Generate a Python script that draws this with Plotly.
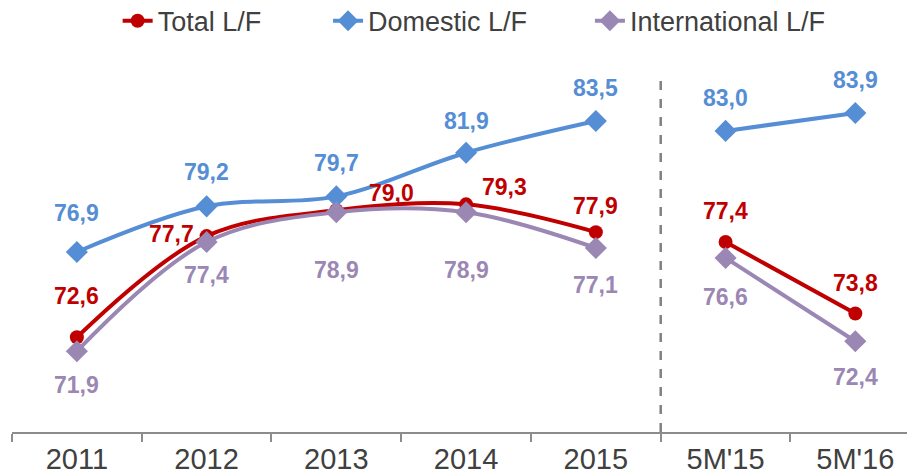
import plotly.graph_objects as go

categories = ["2011", "2012", "2013", "2014", "2015", "5M'15", "5M'16"]
total_lf = [72.6, 77.7, 79.0, 79.3, 77.9, 77.4, 73.8]
domestic_lf = [76.9, 79.2, 79.7, 81.9, 83.5, 83.0, 83.9]
international_lf = [71.9, 77.4, 78.9, 78.9, 77.1, 76.6, 72.4]

RED = "#C00000"
BLUE = "#558ED5"
PURPLE = "#9B87B4"
LABEL_FONT = "Liberation Sans, Arial, sans-serif"
AXIS_FONT = "Liberation Sans, Arial, sans-serif"

series = [
    ("Total L/F", total_lf, RED, "circle", 14, "legend"),
    ("Domestic L/F", domestic_lf, BLUE, "diamond", 17, "legend2"),
    ("International L/F", international_lf, PURPLE, "diamond", 17, "legend3"),
]

# label offsets in pixels (style, not data)
offsets = {
    "Total L/F": [(0, 41), (-35, 2), (55, 17), (38, 17), (0, 26), (0, 31), (0, 31)],
    "Domestic L/F": [(0, 39), (0, 34), (0, 33), (0, 32), (0, 33), (0, 33), (0, 33)],
    "International L/F": [(0, -34), (0, -33), (0, -58), (0, -58), (0, -37), (0, -39), (0, -36)],
}

fig = go.Figure()
split = 5
for name, vals, color, sym, msize, leg in series:
    for part, (cs, vs) in enumerate([(categories[:split], vals[:split]),
                                     (categories[split:], vals[split:])]):
        fig.add_trace(go.Scatter(
            x=cs, y=vs, mode="lines+markers", name=name,
            legendgroup=name, showlegend=(part == 0), legend=leg,
            line=dict(color=color, width=4, shape="spline", smoothing=1),
            marker=dict(symbol=sym, size=msize, color=color),
            hoverinfo="skip",
        ))
    for i, v in enumerate(vals):
        dx, dy = offsets[name][i]
        fig.add_annotation(
            x=i, y=v, text=f"{v:.1f}".replace(".", ","), showarrow=False,
            xshift=dx, yshift=dy,
            font=dict(family=LABEL_FONT, size=23, color=color, weight="bold"),
        )

fig.add_shape(type="line", xref="x", yref="paper", x0=4.5, x1=4.5, y0=0, y1=0.9,
              line=dict(color="#808080", width=2.5, dash="dash"))

fig.update_xaxes(
    type="category", categoryorder="array", categoryarray=categories,
    range=[-0.5, 6.46], showgrid=False, zeroline=False,
    showline=True, linecolor="#8C8C8C", linewidth=1.5,
    ticks="outside", tickson="boundaries", ticklen=8, tickcolor="#8C8C8C", tickwidth=1.5,
    tickfont=dict(family=AXIS_FONT, size=29, color="#404040"),
)
fig.update_yaxes(range=[67.83, 87.58], visible=False)

legend_style = dict(orientation="h", y=1.048, yanchor="middle", xanchor="left",
                    font=dict(family=AXIS_FONT, size=27, color="#404040"),
                    bgcolor="rgba(0,0,0,0)")
fig.update_layout(
    width=907, height=466,
    margin=dict(l=4, r=0, t=32, b=42, autoexpand=False),
    plot_bgcolor="white", paper_bgcolor="white",
    legend=dict(x=0.117, **legend_style),
    legend2=dict(x=0.350, **legend_style),
    legend3=dict(x=0.640, **legend_style),
    showlegend=True,
)

fig.write_html("out.html")
